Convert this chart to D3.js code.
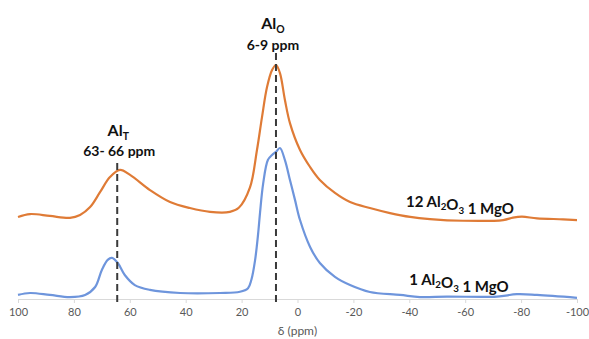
<!DOCTYPE html>
<html>
<head>
<meta charset="utf-8">
<script src="https://cdn.jsdelivr.net/npm/d3@7"></script>
<style>
  body { margin: 0; background: #fff; }
  svg { display: block; }
</style>
</head>
<body>
<div class="chart"></div>
<script>
// chemical shift (ppm) and intensity
// 12 Al2O3 1 MgO
const shiftA = [100, 95.7, 88.6, 81.4, 77.8, 74.2, 70.6, 67.1, 63.5, 59.9, 52.8, 45.6, 38.5, 31.3, 24.2, 21, 17, 14.5, 12.7, 10.9, 9.1, 7.7, 6.3, 4.5, 2.7, -0.9, -4.5, -8, -13.4, -18.8, -25.9, -33.1, -40.3, -47.4, -59.2, -73.6, -77.1, -80.3, -85.7, -95, -100];
const intensityA = [34.2, 35.4, 34.6, 33.8, 35, 38.3, 44.6, 50.8, 53.8, 51.7, 45.4, 40.4, 37.9, 36.3, 36.3, 38, 46.5, 62.1, 75.8, 88.3, 95.4, 97.5, 94.2, 82.9, 73.3, 62.1, 55, 49.6, 44.2, 40.4, 37.9, 35.8, 34.2, 33.3, 32.6, 32.9, 33.9, 34.3, 33.6, 33.2, 32.9];

// 1 Al2O3 1 MgO
const shiftB = [100, 95.7, 88.6, 81.4, 76, 72.4, 70, 67.9, 66.4, 64.3, 61.8, 58.2, 52.8, 42, 27.7, 20.6, 17.7, 16.5, 15.2, 14.1, 13.4, 12.3, 10.6, 9.1, 7.7, 6.3, 4.5, 2.7, 0.9, -0.9, -4.5, -8, -13.4, -18.8, -25.9, -36.7, -43.8, -53.5, -71.4, -78.5, -85.7, -100];
const intensityB = [1.7, 2.5, 1.7, 0.8, 1.7, 5, 12.1, 16.3, 17.1, 15, 10, 5.8, 3.8, 2.5, 2.5, 3, 4.5, 8, 16, 27, 36, 48, 57.9, 60, 61.3, 62.9, 57.9, 49.6, 41.3, 32.9, 21.7, 15, 9.2, 5.8, 2.9, 1.7, 0.8, 1, 1, 2, 1.7, 0.5];

const xTicks = [100, 80, 60, 40, 20, 0, -20, -40, -60, -80, -100];

// peak markers: position and top of dashed line
const markerShift = [64.5, 7.7];
const markerTop = [56.7, 102.5];

const width = 589;
const height = 339;
const font = "Lato, 'Open Sans', sans-serif";

const svg = d3.select(".chart")
  .append("svg")
    .attr("width", width)
    .attr("height", height);

const xScale = d3.scaleLinear()
  .domain([100, -100])
  .range([18, 577]);

const yScale = d3.scaleLinear()
  .domain([0, 100])
  .range([299, 59]);

//x axis
const xAxis = svg.append("g")
  .attr("transform", "translate(0," + yScale(0) + ")")
  .call(d3.axisBottom(xScale).tickValues(xTicks).tickSize(4).tickSizeOuter(0).tickFormat(d => d));
xAxis.select(".domain").attr("stroke", "#d9d9d9");
xAxis.selectAll(".tick line").attr("stroke", "#d9d9d9");
xAxis.selectAll(".tick text")
  .attr("dy", "0.9em")
  .style("font-family", font)
  .style("font-size", "11px")
  .style("fill", "#595959");

svg.append("text")
  .attr("x", xScale(0))
  .attr("y", 335)
  .attr("text-anchor", "middle")
  .style("font-family", font)
  .style("font-size", "12px")
  .style("fill", "#595959")
  .text("δ (ppm)");

//curves
const lineGenerator = d3.line()
  .curve(d3.curveCatmullRom.alpha(0.5))
  .x(d => xScale(d[0]))
  .y(d => yScale(d[1]));

const series = [
  { name: "A", values: d3.zip(shiftA, intensityA), color: "#DF7B36" },
  { name: "B", values: d3.zip(shiftB, intensityB), color: "#6E95DC" }
];

svg.selectAll(".curve")
  .data(series)
  .enter().append("path")
    .attr("class", "curve")
    .attr("d", d => lineGenerator(d.values))
    .style("fill", "none")
    .style("stroke", d => d.color)
    .style("stroke-width", "2.2px");

//dashed marker lines
svg.selectAll(".marker")
  .data(d3.zip(markerShift, markerTop))
  .enter().append("line")
    .attr("class", "marker")
    .attr("x1", d => xScale(d[0]))
    .attr("x2", d => xScale(d[0]))
    .attr("y1", d => yScale(d[1]))
    .attr("y2", yScale(0) + 4)
    .style("stroke", "#3a3a3a")
    .style("stroke-width", "2px")
    .style("stroke-dasharray", "7,4");

//labels
function labelWithSub(x, y, size, parts) {
  const t = svg.append("text")
    .attr("x", x)
    .attr("y", y)
    .attr("text-anchor", "middle")
    .style("font-family", font)
    .style("font-weight", "700")
    .style("font-size", size + "px")
    .style("fill", "#111");
  parts.forEach(p => {
    if (p.sub) {
      t.append("tspan").attr("dy", size * 0.22).style("font-size", (size * 0.65) + "px").text(p.sub);
      t.append("tspan").attr("dy", -size * 0.22).text("");
    } else {
      t.append("tspan").text(p.t);
    }
  });
  return t;
}

function plainLabel(x, y, size, txt) {
  svg.append("text")
    .attr("x", x)
    .attr("y", y)
    .attr("text-anchor", "middle")
    .style("font-family", font)
    .style("font-weight", "700")
    .style("font-size", size + "px")
    .style("fill", "#111")
    .text(txt);
}

labelWithSub(xScale(markerShift[0]) + 1, 136, 16, [{ t: "Al" }, { sub: "T" }]);
plainLabel(xScale(markerShift[0]) + 2, 156, 14, "63- 66 ppm");

labelWithSub(xScale(markerShift[1]) - 3, 29, 16, [{ t: "Al" }, { sub: "O" }]);
plainLabel(xScale(markerShift[1]) - 3, 50, 14, "6-9 ppm");

labelWithSub(460, 207, 15, [{ t: "12 Al" }, { sub: "2" }, { t: "O" }, { sub: "3" }, { t: " 1 MgO" }]);
labelWithSub(459, 285, 15, [{ t: "1 Al" }, { sub: "2" }, { t: "O" }, { sub: "3" }, { t: " 1 MgO" }]);
</script>
</body>
</html>
